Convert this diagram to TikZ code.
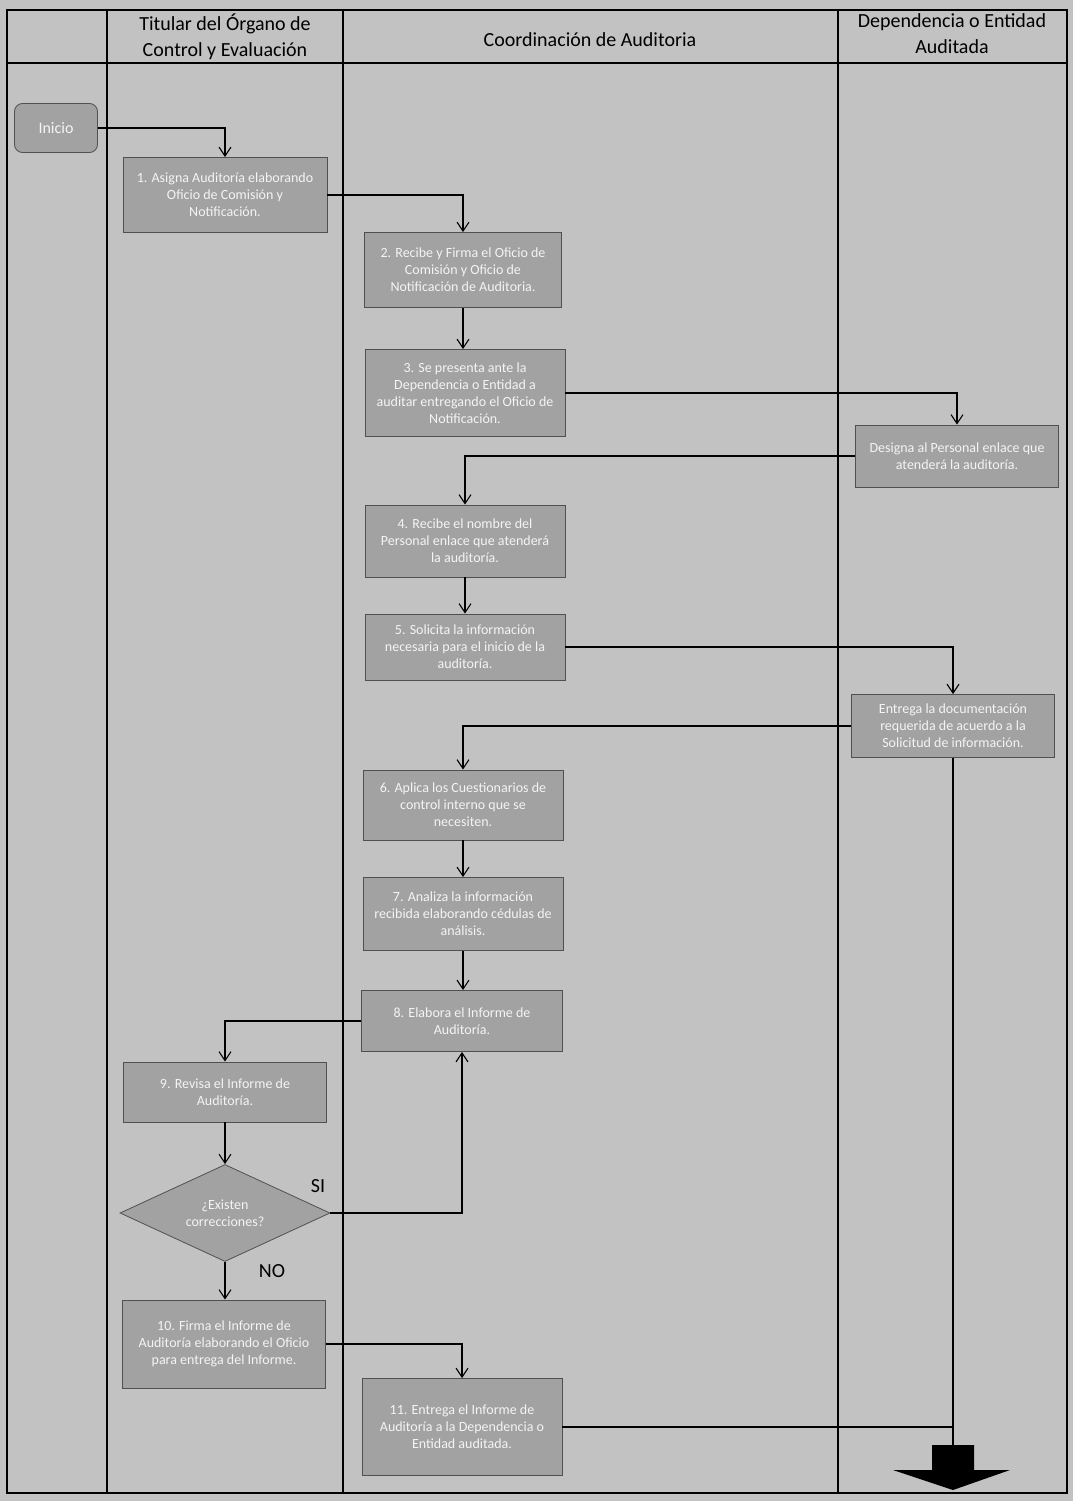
\documentclass[tikz,border=0pt]{standalone}
\usepackage{fontspec}
\setmainfont{Carlito}
\usetikzlibrary{arrows.meta,positioning,calc,shapes.geometric}
\definecolor{pagegray}{HTML}{C2C2C2}
\definecolor{boxgray}{HTML}{A2A2A2}
\definecolor{boxedge}{HTML}{505050}
\definecolor{boxtext}{HTML}{F4F4F4}
\tikzset{
  lane/.style={line width=1.8pt, color=black},
  stepbox/.style={draw=boxedge, line width=0.8pt, fill=boxgray, align=center,
                  text=boxtext, font=\fontsize{14}{17}\selectfont, inner sep=3pt},
  startbox/.style={stepbox, rounded corners=8pt, font=\fontsize{16}{18}\selectfont},
  askbox/.style={draw=boxedge, line width=0.8pt, fill=boxgray, diamond, aspect=2.2,
                 align=center, text=boxtext, font=\fontsize{14}{17}\selectfont, inner sep=0pt},
  headtxt/.style={align=center, text=black, font=\fontsize{20}{26}\selectfont},
  flowarr/.style={-{Straight Barb[length=9pt,width=12pt]}, line width=1.1pt, color=black},
  flowline/.style={line width=1.1pt, color=black}}

\begin{document}
\begin{tikzpicture}[x=1pt, y=-1pt]
  \fill[pagegray] (0,0) rectangle (1073,1501);
  \useasboundingbox (0,0) rectangle (1073,1501);
  % swimlanes
  \draw[lane] (7,10) rectangle (1067,1493);
  \draw[lane] (7,63) -- (1067,63);
  \foreach \lx in {107,343,838}
    \draw[lane] (\lx,10) -- (\lx,1493);
  \node[headtxt] (hTitular) at (225,37) {Titular del Órgano de\\Control y Evaluación};
  \node[headtxt] (hCoord) at (590,40) {Coordinación de Auditoria};
  \node[headtxt] (hDep) at (952,34) {Dependencia o Entidad\\Auditada};

  \node[startbox, minimum width=83pt, minimum height=49pt] (inicio) at (56,128) {Inicio};
  \node[stepbox, minimum width=204pt, minimum height=75pt] (s1) at (225,195)
    {1. Asigna Auditoría elaborando\\Oficio de Comisión y\\Notificación.};
  \node[stepbox, minimum width=197pt, minimum height=75pt] (s2) at (463,270)
    {2. Recibe y Firma el Oficio de\\Comisión y Oficio de\\Notificación de Auditoria.};
  \node[stepbox, minimum width=200pt, minimum height=87pt] (s3) at (465,393)
    {3. Se presenta ante la\\Dependencia o Entidad a\\auditar entregando el Oficio de\\Notificación.};
  \node[stepbox, minimum width=203pt, minimum height=62pt] (designa) at (957,456)
    {Designa al Personal enlace que\\atenderá la auditoría.};
  \node[stepbox, minimum width=200pt, minimum height=72pt] (s4) at (465,541)
    {4. Recibe el nombre del\\Personal enlace que atenderá\\la auditoría.};
  \node[stepbox, minimum width=200pt, minimum height=66pt] (s5) at (465,647)
    {5. Solicita la información\\necesaria para el inicio de la\\auditoría.};
  \node[stepbox, minimum width=203pt, minimum height=63pt] (entrega) at (953,726)
    {Entrega la documentación\\requerida de acuerdo a la\\Solicitud de información.};
  \node[stepbox, minimum width=200pt, minimum height=70pt] (s6) at (463,805)
    {6. Aplica los Cuestionarios de\\control interno que se\\necesiten.};
  \node[stepbox, minimum width=200pt, minimum height=73pt] (s7) at (463,914)
    {7. Analiza la información\\recibida elaborando cédulas de\\análisis.};
  \node[stepbox, minimum width=201pt, minimum height=61pt] (s8) at (462,1021)
    {8. Elabora el Informe de\\Auditoría.};
  \node[stepbox, minimum width=203pt, minimum height=60pt] (s9) at (225,1092)
    {9. Revisa el Informe de\\Auditoría.};
  \node[askbox, minimum width=210pt, minimum height=97pt] (existen) at (225,1213)
    {¿Existen\\correcciones?};
  \node[stepbox, minimum width=203pt, minimum height=88pt] (s10) at (224,1344)
    {10. Firma el Informe de\\Auditoría elaborando el Oficio\\para entrega del Informe.};
  \node[stepbox, minimum width=200pt, minimum height=97pt] (s11) at (462,1427)
    {11. Entrega el Informe de\\Auditoría a la Dependencia o\\Entidad auditada.};
  \coordinate (fin) at (953,1445);
  \fill[black] (932,1445) -- (974,1445) -- (974,1470) -- (1010,1470) -- (953,1490)
    -- (893,1470) -- (932,1470) -- cycle;

  \draw[flowarr] (inicio.east) -| (s1.north);
  \draw[flowarr] (s1.east) -| (s2.north);
  \draw[flowarr] (s2.south) -- (s2.south |- s3.north);
  \draw[flowarr] (s3.east) -| (designa.north);
  \draw[flowarr] (designa.west) -| (s4.north);
  \draw[flowarr] (s4.south) -- (s5.north);
  \draw[flowarr] (s5.east) -| (entrega.north);
  \draw[flowarr] (entrega.west) -| (s6.north);
  \draw[flowarr] (s6.south) -- (s7.north);
  \draw[flowarr] (s7.south) -- (s7.south |- s8.north);
  \draw[flowarr] (s8.west) -| (s9.north);
  \draw[flowarr] (s9.south) -- (existen.north);
  \draw[flowarr] (existen.east) -| (s8.south);
  \draw[flowarr] (existen.south) -- (existen.south |- s10.north);
  \draw[flowarr] (s10.east) -| (s11.north);
  \draw[flowline] (entrega.south) -- (fin);
  \draw[flowline] (s11.east) -- (s11.east -| fin);
  \node[font=\fontsize{20}{22}\selectfont] (si) at (318,1186) {SI};
  \node[font=\fontsize{20}{22}\selectfont] (no) at (272,1271) {NO};
\end{tikzpicture}
\end{document}
